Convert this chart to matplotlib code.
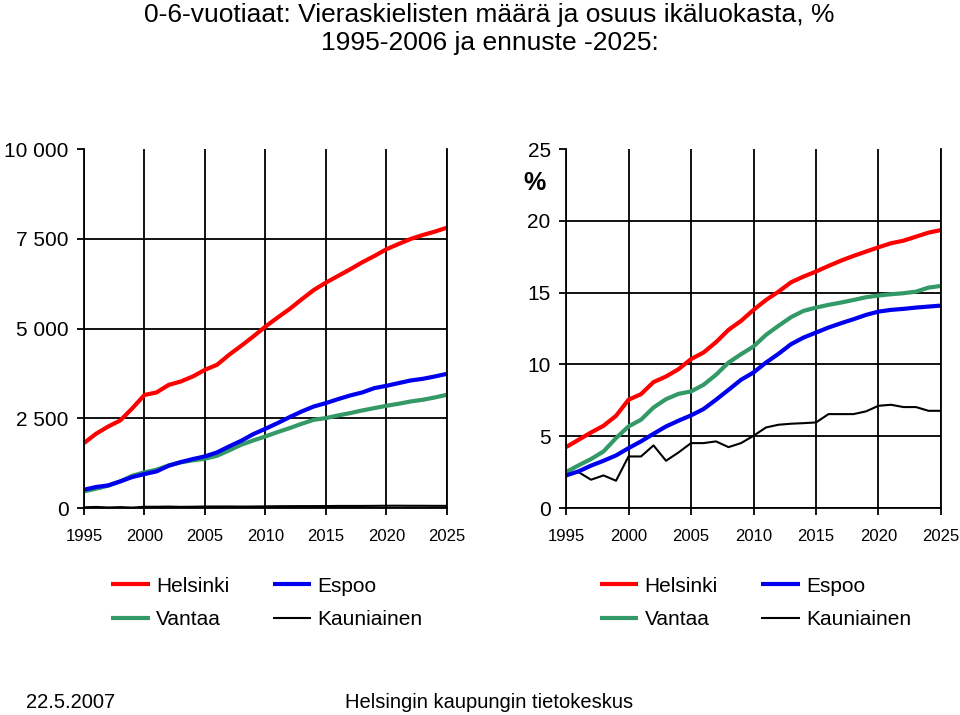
import matplotlib
matplotlib.use("Agg")
import matplotlib.pyplot as plt
from matplotlib.ticker import FuncFormatter

plt.rcParams["font.family"] = ["Liberation Sans", "DejaVu Sans"]

# Data
years = list(range(1995, 2026))
cities = ["Helsinki", "Espoo", "Vantaa", "Kauniainen"]

# number of foreign-language 0-6 year olds
hki_n = [1810, 2070, 2270, 2440, 2780, 3150, 3220, 3430, 3525, 3665, 3850, 3990,
         4270, 4520, 4780, 5055, 5305, 5545, 5815, 6075, 6280, 6465, 6650, 6845,
         7020, 7210, 7355, 7495, 7605, 7700, 7810]
esp_n = [510, 585, 630, 742, 863, 946, 1020, 1178, 1280, 1364, 1438, 1549,
         1716, 1874, 2059, 2208, 2365, 2532, 2690, 2829, 2922, 3033, 3135, 3219,
         3340, 3404, 3479, 3553, 3599, 3664, 3738]
van_n = [464, 538, 622, 742, 900, 993, 1067, 1187, 1271, 1327, 1373, 1456,
         1605, 1763, 1883, 1994, 2115, 2226, 2347, 2458, 2505, 2579, 2644, 2718,
         2783, 2848, 2904, 2968, 3015, 3080, 3154]
kau_n = [20, 30, 15, 25, 12, 35, 35, 40, 32, 36, 42, 42, 43, 40, 42, 46,
         50, 52, 53, 53, 54, 58, 58, 58, 60, 63, 64, 62, 62, 60, 60]

# share of age group, %
hki_p = [4.24, 4.75, 5.26, 5.73, 6.42, 7.54, 7.93, 8.77, 9.16, 9.67, 10.37, 10.83,
         11.55, 12.41, 13.03, 13.80, 14.49, 15.07, 15.72, 16.12, 16.47, 16.86,
         17.23, 17.56, 17.86, 18.16, 18.44, 18.62, 18.90, 19.18, 19.36]
esp_p = [2.27, 2.55, 2.95, 3.29, 3.66, 4.17, 4.64, 5.17, 5.68, 6.08, 6.45, 6.89,
         7.54, 8.23, 8.93, 9.44, 10.13, 10.74, 11.41, 11.87, 12.22, 12.57, 12.87,
         13.15, 13.45, 13.68, 13.80, 13.87, 13.96, 14.03, 14.10]
van_p = [2.50, 2.97, 3.41, 3.94, 4.87, 5.68, 6.15, 7.00, 7.58, 7.95, 8.12, 8.58,
         9.28, 10.13, 10.71, 11.25, 12.06, 12.69, 13.29, 13.73, 13.96, 14.15,
         14.31, 14.49, 14.68, 14.80, 14.89, 14.96, 15.07, 15.35, 15.47]
kau_p = [2.27, 2.50, 1.97, 2.27, 1.90, 3.59, 3.59, 4.36, 3.29, 3.87, 4.52, 4.52,
         4.64, 4.24, 4.52, 5.03, 5.61, 5.80, 5.87, 5.91, 5.96, 6.54, 6.54, 6.54,
         6.73, 7.12, 7.19, 7.03, 7.03, 6.77, 6.77]

colors = {"Helsinki": "#ff0000", "Espoo": "#0000ee", "Vantaa": "#339966",
          "Kauniainen": "#000000"}
widths = {"Helsinki": 3.0, "Espoo": 3.0, "Vantaa": 3.0, "Kauniainen": 1.5}

fig = plt.figure(figsize=(9.6, 7.15), dpi=100)
fig.text(0.51, 0.996, "0-6-vuotiaat: Vieraskielisten määrä ja osuus ikäluokasta, %\n"
         "1995-2006 ja ennuste -2025:", ha="center", va="top", fontsize=19,
         linespacing=1.2)

ax1 = fig.add_axes([0.0875, 0.2895, 0.378, 0.502])
ax2 = fig.add_axes([0.5896, 0.2895, 0.3906, 0.502])


def style(ax, ymax, ystep):
    ax.set_xlim(1995, 2025)
    ax.set_ylim(0, ymax)
    ax.set_xticks(range(1995, 2026, 5))
    ax.set_yticks([ystep * i for i in range(int(ymax / ystep) + 1)])
    ax.grid(True, color="black", lw=1.3)
    ax.yaxis.get_gridlines()[-1].set_visible(False)
    ax.set_axisbelow(True)
    ax.spines["top"].set_visible(False)
    for s in ("left", "bottom", "right"):
        ax.spines[s].set_linewidth(1.3)
    ax.tick_params(axis="x", labelsize=12, length=5, width=1.3, pad=10)
    ax.tick_params(axis="y", labelsize=15, length=5, width=1.3, pad=6)


style(ax1, 10000, 2500)
ax1.yaxis.set_major_formatter(FuncFormatter(lambda v, p: f"{int(v):,}".replace(",", " ")))
style(ax2, 25, 5)

left_data = {"Helsinki": hki_n, "Espoo": esp_n, "Vantaa": van_n, "Kauniainen": kau_n}
right_data = {"Helsinki": hki_p, "Espoo": esp_p, "Vantaa": van_p, "Kauniainen": kau_p}

for ax, data in ((ax1, left_data), (ax2, right_data)):
    for c in ["Kauniainen", "Vantaa", "Espoo", "Helsinki"]:
        ax.plot(years, data[c], color=colors[c], lw=widths[c], label=c,
                solid_capstyle="butt", clip_on=False)

ax2.text(-0.083, 0.905, "%", transform=ax2.transAxes, fontsize=18,
         fontweight="bold", ha="center", va="center")

order = ["Helsinki", "Vantaa", "Espoo", "Kauniainen"]
for ax, cx in ((ax1, 0.278), (ax2, 0.787)):
    h, l = ax.get_legend_handles_labels()
    hd = dict(zip(l, h))
    fig.legend([hd[k] for k in order], order, ncol=2, loc="center",
               bbox_to_anchor=(cx, 0.157), frameon=False, fontsize=15,
               handlelength=1.85, handletextpad=0.3, columnspacing=2.1,
               labelspacing=0.69, borderpad=0)

fig.text(0.027, 0.0168, "22.5.2007", fontsize=14.5, ha="left", va="center")
fig.text(0.359, 0.0168, "Helsingin kaupungin tietokeskus", fontsize=14.5,
         ha="left", va="center")

fig.savefig("out.png", dpi=100)
